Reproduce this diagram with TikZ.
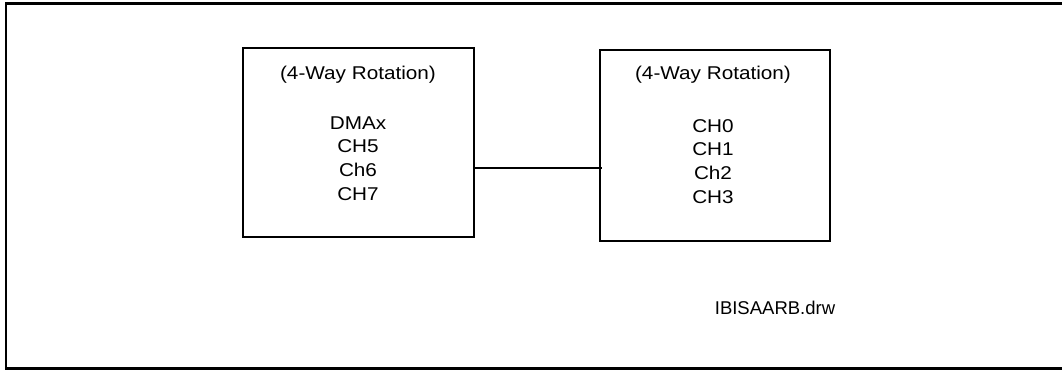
\documentclass[tikz,border=0pt]{standalone}
\usepackage{fontspec}
\setmainfont{Liberation Sans}
\newfontfamily\boxfont[FakeStretch=1.12]{Liberation Sans}
\begin{document}
\begin{tikzpicture}[x=1pt,y=-1pt,
  box/.style={draw=black,line width=2pt,inner sep=0pt},
  lbl/.style={font=\boxfont\fontsize{18.5}{24}\selectfont,inner sep=0pt,anchor=base},
  flbl/.style={font=\fontsize{18.5}{24}\selectfont,inner sep=0pt,anchor=base},
  wire/.style={draw=black,line width=1.6pt}]
\useasboundingbox (0,0) rectangle (1062,371);
\draw[line width=2.6pt] (1070,3.5) -- (6,3.5) -- (6,368.5) -- (1070,368.5);
% boxes
\node[box,minimum width=231pt,minimum height=189pt] (L) at (358.5,142.5) {};
\node[box,minimum width=230pt,minimum height=191pt] (R) at (715,145.5) {};
% texts, left box
\node[lbl] (lt) at (358,79.5) {(4-Way Rotation)};
\node[lbl] (l1) at (358,129.5) {DMAx};
\node[lbl] (l2) at (358,153) {CH5};
\node[lbl] (l3) at (358,176.5) {Ch6};
\node[lbl] (l4) at (358,200.5) {CH7};
% texts, right box
\node[lbl] (rt) at (713,79.5) {(4-Way Rotation)};
\node[lbl] (r1) at (713,132.5) {CH0};
\node[lbl] (r2) at (713,156) {CH1};
\node[lbl] (r3) at (713,179.5) {Ch2};
\node[lbl] (r4) at (713,203.5) {CH3};
\node[flbl] (file) at (775,314) {IBISAARB.drw};
% connector
\coordinate (cy) at (0,168);
\draw[wire] (L.east |- cy) -- ([xshift=3pt]R.west |- cy);
\end{tikzpicture}
\end{document}
